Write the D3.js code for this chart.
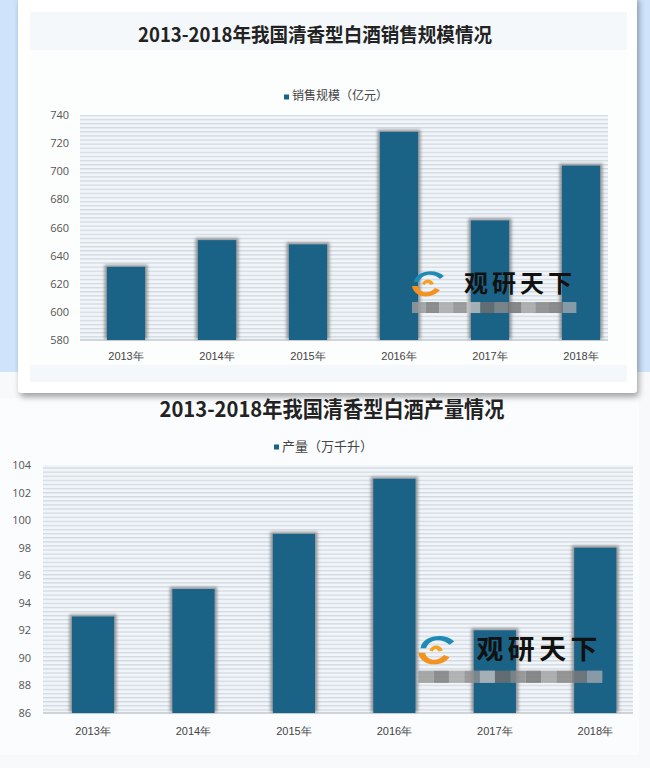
<!DOCTYPE html>
<html><head><meta charset="utf-8">
<script src="https://cdn.jsdelivr.net/npm/d3@7"></script>
<style>
html,body{margin:0;padding:0;background:#f7f9fb;}
svg{display:block;font-family:"Noto Sans CJK SC","Noto Sans",sans-serif;}
</style></head>
<body>
<script>
// ---- data ----
const years = ["2013年","2014年","2015年","2016年","2017年","2018年"];
const salesValues = [632, 651, 648, 728, 665, 704];   // 销售规模（亿元）
const salesTicks = [580, 600, 620, 640, 660, 680, 700, 720, 740];
const outputValues = [93, 95, 99, 103, 92, 98];       // 产量（万千升）
const outputTicks = [86, 88, 90, 92, 94, 96, 98, 100, 102, 104];
const title1 = "2013-2018年我国清香型白酒销售规模情况";
const title2 = "2013-2018年我国清香型白酒产量情况";
const legend1 = "销售规模（亿元）";
const legend2 = "产量（万千升）";
const watermark = "观研天下";

const W = 650, H = 768;
const barColor = "#1a6387";
const svg = d3.select("body").append("svg").attr("width", W).attr("height", H);
const defs = svg.append("defs");

// stripes pattern
const pat = defs.append("pattern").attr("id","stripes").attr("patternUnits","userSpaceOnUse")
  .attr("width", 8).attr("height", 4.1);
pat.append("rect").attr("width",8).attr("height",4.1).attr("fill","#f2f5f8");
pat.append("rect").attr("y",0).attr("width",8).attr("height",1.3).attr("fill","#d0dae3");

const sh = defs.append("filter").attr("id","barsh").attr("x","-30%").attr("y","-10%").attr("width","160%").attr("height","120%");
sh.append("feGaussianBlur").attr("stdDeviation",1.6);
const cs = defs.append("filter").attr("id","cardsh").attr("x","-5%").attr("y","-5%").attr("width","110%").attr("height","115%");
cs.append("feDropShadow").attr("dx",2).attr("dy",4).attr("stdDeviation",3).attr("flood-color","#000").attr("flood-opacity",0.35);

// ---- backgrounds ----
svg.append("rect").attr("x",0).attr("y",0).attr("width",W).attr("height",H).attr("fill","#f7f9fb");
svg.append("rect").attr("x",0).attr("y",0).attr("width",W).attr("height",372).attr("fill","#cfe4fa");
svg.append("rect").attr("x",0).attr("y",398).attr("width",639).attr("height",357).attr("fill","#fbfcfd");
// top card
svg.append("rect").attr("x",18).attr("y",-5).attr("width",619).attr("height",398).attr("rx",4)
  .attr("fill","#ffffff").attr("filter","url(#cardsh)");
svg.append("rect").attr("x",30).attr("y",12).attr("width",597).attr("height",370).attr("fill","#f5f8fa");
svg.append("rect").attr("x",30).attr("y",50).attr("width",597).attr("height",315).attr("fill","#fcfdfd");

function drawChart(cfg){
  const g = svg.append("g");
  const y = d3.scaleLinear().domain(cfg.domain).range([cfg.bottom, cfg.top]);
  const x = d3.scaleBand().domain(years).range(cfg.xRange).paddingInner(0.58).paddingOuter(0.29);
  // striped plot area
  g.append("rect").attr("x",cfg.gridLeft).attr("y",cfg.top)
    .attr("width",cfg.gridRight-cfg.gridLeft).attr("height",cfg.bottom-cfg.top)
    .attr("fill","url(#stripes)");
  // baseline
  g.append("line").attr("x1",cfg.gridLeft).attr("x2",cfg.gridRight)
    .attr("y1",cfg.bottom).attr("y2",cfg.bottom).attr("stroke","#c3c9cf").attr("stroke-width",1.5);
  // y axis
  const ya = g.append("g").attr("transform",`translate(${cfg.gridLeft},0)`)
    .call(d3.axisLeft(y).tickValues(cfg.ticks).tickSize(0).tickPadding(cfg.tickPad));
  ya.select(".domain").remove();
  ya.selectAll("text").attr("font-size",11).attr("fill","#555").attr("font-family","'Open Sans','Noto Sans CJK SC',sans-serif");
  // x axis
  const xa = g.append("g").attr("transform",`translate(0,${cfg.bottom})`)
    .call(d3.axisBottom(x).tickSize(0).tickPadding(cfg.xPad));
  xa.select(".domain").remove();
  xa.selectAll("text").attr("font-size",11).attr("fill","#444");
  // bar shadows
  g.selectAll("rect.sh").data(cfg.values).join("rect").attr("class","sh")
    .attr("x",(d,i)=>x(years[i])-2.5).attr("width",x.bandwidth()+5)
    .attr("y",d=>y(d)-2).attr("height",d=>cfg.bottom-y(d)+1)
    .attr("fill","#7c8084").attr("opacity",0.8).attr("filter","url(#barsh)");
  // bars
  g.selectAll("rect.bar").data(cfg.values).join("rect").attr("class","bar")
    .attr("x",(d,i)=>x(years[i])).attr("width",x.bandwidth())
    .attr("y",d=>y(d)).attr("height",d=>cfg.bottom-y(d)).attr("fill",barColor);
  // title
  g.append("text").attr("x",cfg.titleX).attr("y",cfg.titleY).attr("text-anchor","middle")
    .attr("font-size",cfg.titleSize).attr("font-weight","bold").attr("fill","#222")
    .attr("textLength",cfg.titleLen).attr("lengthAdjust","spacingAndGlyphs")
    .attr("dominant-baseline","middle").text(cfg.title);
  // legend
  g.append("rect").attr("x",cfg.legX).attr("y",cfg.legY-2.5).attr("width",5).attr("height",5).attr("fill",barColor);
  g.append("text").attr("x",cfg.legX+8).attr("y",cfg.legY).attr("dominant-baseline","middle")
    .attr("font-size",cfg.legSize).attr("fill","#444").text(cfg.legend);
  // watermark
  const w = g.append("g").attr("transform",`translate(${cfg.wmX},${cfg.wmY}) scale(${cfg.wmS})`);
  w.append("path").attr("d","M4,10 C6,-2 26,-4 34,4 L30,7 C24,1 12,1 9,10 Z").attr("fill","#1f8bb5");
  w.append("path").attr("d","M2,14 C4,26 22,28 30,18 L25,16 C20,22 10,22 8,14 Z").attr("fill","#f3921e");
  w.append("path").attr("d","M12,12 C14,6 22,6 24,12 L20,13 C19,10 16,10 15,13 Z").attr("fill","#f3a11e");
  w.append("text").attr("x",54).attr("y",13).attr("dominant-baseline","middle")
    .attr("font-size",24).attr("font-weight","bold").attr("fill","#111").attr("letter-spacing",4).text(watermark);
  const blocks = d3.range(12);
  w.selectAll("rect.mz").data(blocks).join("rect").attr("class","mz")
    .attr("x",d=>2+d*13.7).attr("y",30).attr("width",13.7).attr("height",11)
    .attr("fill",(d,i)=>["#9a9a9a","#7d7d7d","#a8a8a8","#8d8d8d","#bdbdbd","#6f6f6f","#8a8a8a","#767676","#a3a3a3","#858585","#7a7a7a","#9aa4ab"][i])
    .attr("opacity",0.85);
}

drawChart({
  domain:[580,740], ticks:salesTicks, values:salesValues, top:115, bottom:340,
  xRange:[80.5,626.5], gridLeft:80, gridRight:608, tickPad:11, xPad:12,
  title:title1, titleX:315, titleY:37, titleSize:19.5, titleLen:354,
  legend:legend1, legX:284, legY:97, legSize:12,
  wmX:410, wmY:272, wmS:1.0
});
drawChart({
  domain:[86,104], ticks:outputTicks, values:outputValues, top:465, bottom:713,
  xRange:[42.8,645.5], gridLeft:43, gridRight:633, tickPad:12, xPad:14,
  title:title2, titleX:332, titleY:411, titleSize:21.5, titleLen:345,
  legend:legend2, legX:274, legY:447, legSize:13,
  wmX:416, wmY:637, wmS:1.12
});
</script>
</body></html>
